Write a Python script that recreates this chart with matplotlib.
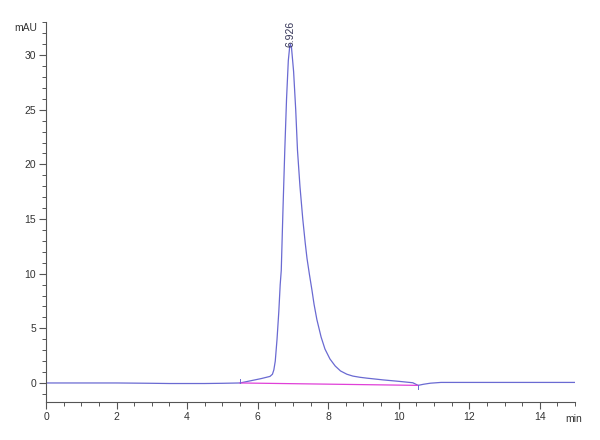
import matplotlib
matplotlib.use("Agg")
import matplotlib.pyplot as plt
from matplotlib.ticker import MultipleLocator

plt.rcParams['font.family'] = ['Liberation Sans Narrow', 'Liberation Sans', 'DejaVu Sans']

# Chromatogram trace (time in min, absorbance in mAU)
time_min = [0, 1, 2, 3, 3.5, 4, 4.5, 5, 5.5, 5.8, 6.1, 6.35, 6.42, 6.46, 6.5,
            6.55, 6.6, 6.64, 6.67, 6.72, 6.77, 6.82, 6.87, 6.91, 6.93, 6.96,
            7.02, 7.08, 7.13, 7.2, 7.28, 7.35, 7.4, 7.47, 7.54, 7.6, 7.68,
            7.8, 7.91, 8.05, 8.2, 8.35, 8.53, 8.7, 8.9, 9.1, 9.56, 10.0, 10.4,
            10.55, 10.7, 10.9, 11.2, 12, 13, 14, 15]
signal_mau = [0, 0, 0, -0.03, -0.05, -0.05, -0.05, -0.03, 0.0, 0.2, 0.4, 0.6,
              0.8, 1.2, 2.0, 4.0, 6.5, 9.0, 10.3, 16.0, 21.3, 26.0, 29.5, 30.8,
              31.0, 30.7, 28.5, 25.0, 21.3, 18.0, 15.0, 12.8, 11.4, 9.9, 8.5,
              7.2, 5.8, 4.2, 3.1, 2.2, 1.55, 1.1, 0.8, 0.63, 0.52, 0.44, 0.28,
              0.15, 0.02, -0.22, -0.12, -0.02, 0.05, 0.05, 0.05, 0.05, 0.05]

# Integration baseline
baseline_t = [5.5, 10.55]
baseline_y = [0.0, -0.22]

peak_rt = 6.926
peak_height = 31.0
peak_label = "6.926"

x_ticks = [0, 2, 4, 6, 8, 10, 12, 14]
y_ticks = [0, 5, 10, 15, 20, 25, 30]

fig = plt.figure(figsize=(6, 4.4), dpi=100)
ax = fig.add_axes([0.0767, 0.0864, 0.8817, 0.8636])

ax.plot(time_min, signal_mau, color='#6a6ad2', lw=0.9)
ax.plot(baseline_t, baseline_y, color='#e040d8', lw=0.9)
# integration markers
ax.plot([baseline_t[0], baseline_t[0]], [baseline_y[0], baseline_y[0] + 0.4], color='#6a6ad2', lw=0.7)
ax.plot([baseline_t[1], baseline_t[1]], [baseline_y[1], baseline_y[1] - 0.3], color='#6a6ad2', lw=0.7)

ax.text(peak_rt, peak_height - 0.3, peak_label, rotation=90, ha='center', va='bottom',
        fontsize=7.5, color='#333355')

ax.set_xlim(0, 15)
ax.set_ylim(-1.74, 33.03)
ax.set_xticks(x_ticks)
ax.set_yticks(y_ticks)
ax.xaxis.set_minor_locator(MultipleLocator(0.5))
ax.yaxis.set_minor_locator(MultipleLocator(1))

for s in ['top', 'right']:
    ax.spines[s].set_visible(False)
for s in ['left', 'bottom']:
    ax.spines[s].set_color('#555555')
    ax.spines[s].set_linewidth(0.8)

ax.tick_params(which='major', length=5, width=0.8, color='#555555', labelsize=7.5,
               labelcolor='#333333', pad=2)
ax.tick_params(which='minor', length=3, width=0.7, color='#555555')

ax.text(-0.25, 32.5, "mAU", ha='right', va='center', fontsize=7.5, color='#333333')
ax.text(14.95, -1.74 - 1.1, "min", ha='center', va='top', fontsize=7.5, color='#333333')

fig.savefig("out.png", dpi=100)
